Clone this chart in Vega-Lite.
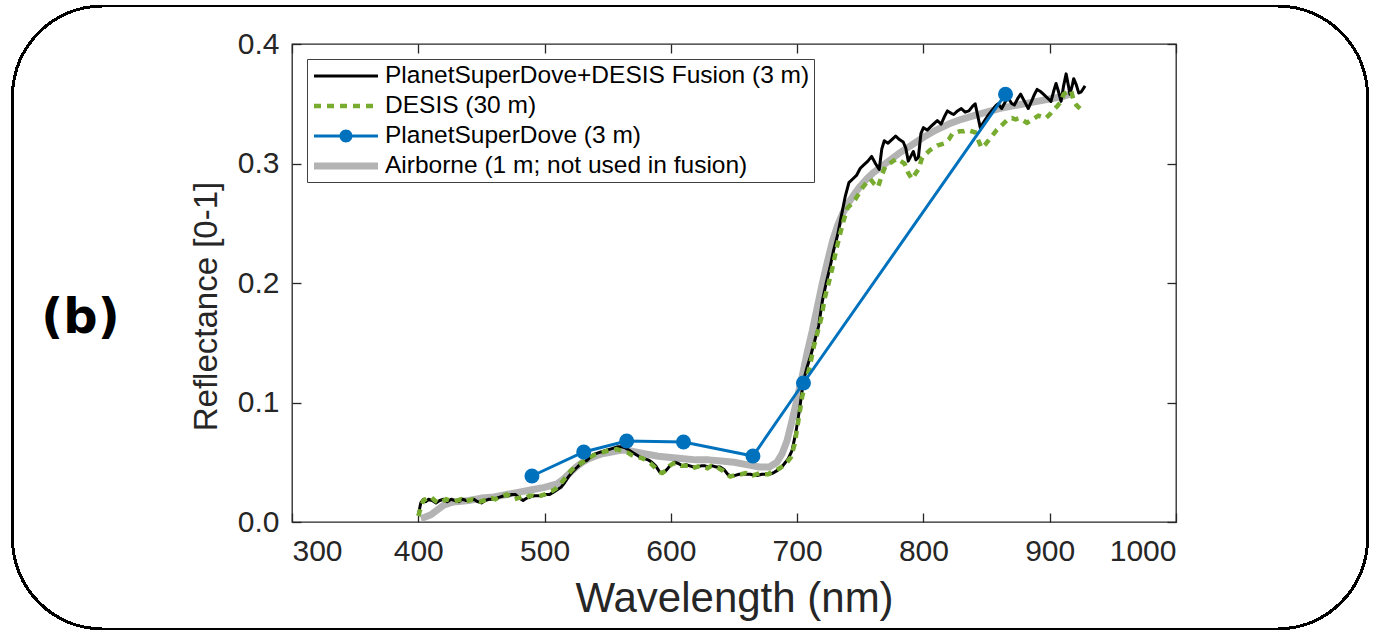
{
  "$schema": "https://vega.github.io/schema/vega-lite/v6.json",
  "width": 884,
  "height": 478,
  "autosize": {"type": "pad"},
  "padding": {"left": 11, "top": 4, "right": 11, "bottom": 4},
  "background": "white",
  "config": {
    "view": {"stroke": "#262626", "strokeWidth": 1.3},
    "axis": {"labelFont": "Liberation Sans", "labelFontSize": 30, "labelColor": "#262626", "tickColor": "#262626", "tickSize": 9, "tickWidth": 1.3, "domain": false, "grid": false, "titleFont": "Liberation Sans", "titleFontSize": 42, "titleFontWeight": "normal", "titleColor": "#262626"}
  },
  "data": {"values": [
    {"s":"PlanetSuperDove+DESIS Fusion (3 m)","w":400,"r":0.006},{"s":"PlanetSuperDove+DESIS Fusion (3 m)","w":402,"r":0.016},{"s":"PlanetSuperDove+DESIS Fusion (3 m)","w":404,"r":0.019},{"s":"PlanetSuperDove+DESIS Fusion (3 m)","w":406,"r":0.017},{"s":"PlanetSuperDove+DESIS Fusion (3 m)","w":408,"r":0.019},{"s":"PlanetSuperDove+DESIS Fusion (3 m)","w":411,"r":0.018},{"s":"PlanetSuperDove+DESIS Fusion (3 m)","w":414,"r":0.016},{"s":"PlanetSuperDove+DESIS Fusion (3 m)","w":417,"r":0.018},{"s":"PlanetSuperDove+DESIS Fusion (3 m)","w":420,"r":0.019},{"s":"PlanetSuperDove+DESIS Fusion (3 m)","w":423,"r":0.017},{"s":"PlanetSuperDove+DESIS Fusion (3 m)","w":426,"r":0.019},{"s":"PlanetSuperDove+DESIS Fusion (3 m)","w":429,"r":0.018},{"s":"PlanetSuperDove+DESIS Fusion (3 m)","w":432,"r":0.017},{"s":"PlanetSuperDove+DESIS Fusion (3 m)","w":435,"r":0.019},{"s":"PlanetSuperDove+DESIS Fusion (3 m)","w":438,"r":0.018},{"s":"PlanetSuperDove+DESIS Fusion (3 m)","w":441,"r":0.018},{"s":"PlanetSuperDove+DESIS Fusion (3 m)","w":444,"r":0.019},{"s":"PlanetSuperDove+DESIS Fusion (3 m)","w":447,"r":0.017},{"s":"PlanetSuperDove+DESIS Fusion (3 m)","w":450,"r":0.016},{"s":"PlanetSuperDove+DESIS Fusion (3 m)","w":453,"r":0.018},{"s":"PlanetSuperDove+DESIS Fusion (3 m)","w":456,"r":0.019},{"s":"PlanetSuperDove+DESIS Fusion (3 m)","w":459,"r":0.019},{"s":"PlanetSuperDove+DESIS Fusion (3 m)","w":462,"r":0.020},{"s":"PlanetSuperDove+DESIS Fusion (3 m)","w":465,"r":0.021},{"s":"PlanetSuperDove+DESIS Fusion (3 m)","w":468,"r":0.022},{"s":"PlanetSuperDove+DESIS Fusion (3 m)","w":471,"r":0.022},{"s":"PlanetSuperDove+DESIS Fusion (3 m)","w":474,"r":0.023},{"s":"PlanetSuperDove+DESIS Fusion (3 m)","w":477,"r":0.023},{"s":"PlanetSuperDove+DESIS Fusion (3 m)","w":480,"r":0.020},{"s":"PlanetSuperDove+DESIS Fusion (3 m)","w":483,"r":0.018},{"s":"PlanetSuperDove+DESIS Fusion (3 m)","w":486,"r":0.020},{"s":"PlanetSuperDove+DESIS Fusion (3 m)","w":489,"r":0.021},{"s":"PlanetSuperDove+DESIS Fusion (3 m)","w":492,"r":0.022},{"s":"PlanetSuperDove+DESIS Fusion (3 m)","w":495,"r":0.022},{"s":"PlanetSuperDove+DESIS Fusion (3 m)","w":498,"r":0.022},{"s":"PlanetSuperDove+DESIS Fusion (3 m)","w":501,"r":0.023},{"s":"PlanetSuperDove+DESIS Fusion (3 m)","w":504,"r":0.023},{"s":"PlanetSuperDove+DESIS Fusion (3 m)","w":507,"r":0.025},{"s":"PlanetSuperDove+DESIS Fusion (3 m)","w":510,"r":0.027},{"s":"PlanetSuperDove+DESIS Fusion (3 m)","w":513,"r":0.029},{"s":"PlanetSuperDove+DESIS Fusion (3 m)","w":516,"r":0.033},{"s":"PlanetSuperDove+DESIS Fusion (3 m)","w":519,"r":0.038},{"s":"PlanetSuperDove+DESIS Fusion (3 m)","w":522,"r":0.042},{"s":"PlanetSuperDove+DESIS Fusion (3 m)","w":525,"r":0.045},{"s":"PlanetSuperDove+DESIS Fusion (3 m)","w":528,"r":0.048},{"s":"PlanetSuperDove+DESIS Fusion (3 m)","w":531,"r":0.050},{"s":"PlanetSuperDove+DESIS Fusion (3 m)","w":534,"r":0.052},{"s":"PlanetSuperDove+DESIS Fusion (3 m)","w":537,"r":0.055},{"s":"PlanetSuperDove+DESIS Fusion (3 m)","w":540,"r":0.057},{"s":"PlanetSuperDove+DESIS Fusion (3 m)","w":543,"r":0.058},{"s":"PlanetSuperDove+DESIS Fusion (3 m)","w":546,"r":0.059},{"s":"PlanetSuperDove+DESIS Fusion (3 m)","w":549,"r":0.060},{"s":"PlanetSuperDove+DESIS Fusion (3 m)","w":552,"r":0.061},{"s":"PlanetSuperDove+DESIS Fusion (3 m)","w":555,"r":0.062},{"s":"PlanetSuperDove+DESIS Fusion (3 m)","w":558,"r":0.063},{"s":"PlanetSuperDove+DESIS Fusion (3 m)","w":561,"r":0.063},{"s":"PlanetSuperDove+DESIS Fusion (3 m)","w":564,"r":0.062},{"s":"PlanetSuperDove+DESIS Fusion (3 m)","w":567,"r":0.060},{"s":"PlanetSuperDove+DESIS Fusion (3 m)","w":570,"r":0.058},{"s":"PlanetSuperDove+DESIS Fusion (3 m)","w":573,"r":0.056},{"s":"PlanetSuperDove+DESIS Fusion (3 m)","w":576,"r":0.054},{"s":"PlanetSuperDove+DESIS Fusion (3 m)","w":579,"r":0.053},{"s":"PlanetSuperDove+DESIS Fusion (3 m)","w":582,"r":0.052},{"s":"PlanetSuperDove+DESIS Fusion (3 m)","w":585,"r":0.050},{"s":"PlanetSuperDove+DESIS Fusion (3 m)","w":588,"r":0.047},{"s":"PlanetSuperDove+DESIS Fusion (3 m)","w":591,"r":0.042},{"s":"PlanetSuperDove+DESIS Fusion (3 m)","w":594,"r":0.041},{"s":"PlanetSuperDove+DESIS Fusion (3 m)","w":597,"r":0.044},{"s":"PlanetSuperDove+DESIS Fusion (3 m)","w":600,"r":0.048},{"s":"PlanetSuperDove+DESIS Fusion (3 m)","w":603,"r":0.050},{"s":"PlanetSuperDove+DESIS Fusion (3 m)","w":606,"r":0.049},{"s":"PlanetSuperDove+DESIS Fusion (3 m)","w":609,"r":0.047},{"s":"PlanetSuperDove+DESIS Fusion (3 m)","w":612,"r":0.048},{"s":"PlanetSuperDove+DESIS Fusion (3 m)","w":615,"r":0.047},{"s":"PlanetSuperDove+DESIS Fusion (3 m)","w":618,"r":0.046},{"s":"PlanetSuperDove+DESIS Fusion (3 m)","w":621,"r":0.046},{"s":"PlanetSuperDove+DESIS Fusion (3 m)","w":624,"r":0.047},{"s":"PlanetSuperDove+DESIS Fusion (3 m)","w":627,"r":0.047},{"s":"PlanetSuperDove+DESIS Fusion (3 m)","w":630,"r":0.046},{"s":"PlanetSuperDove+DESIS Fusion (3 m)","w":633,"r":0.047},{"s":"PlanetSuperDove+DESIS Fusion (3 m)","w":636,"r":0.046},{"s":"PlanetSuperDove+DESIS Fusion (3 m)","w":639,"r":0.046},{"s":"PlanetSuperDove+DESIS Fusion (3 m)","w":642,"r":0.044},{"s":"PlanetSuperDove+DESIS Fusion (3 m)","w":645,"r":0.040},{"s":"PlanetSuperDove+DESIS Fusion (3 m)","w":648,"r":0.038},{"s":"PlanetSuperDove+DESIS Fusion (3 m)","w":651,"r":0.039},{"s":"PlanetSuperDove+DESIS Fusion (3 m)","w":654,"r":0.040},{"s":"PlanetSuperDove+DESIS Fusion (3 m)","w":657,"r":0.040},{"s":"PlanetSuperDove+DESIS Fusion (3 m)","w":660,"r":0.040},{"s":"PlanetSuperDove+DESIS Fusion (3 m)","w":663,"r":0.040},{"s":"PlanetSuperDove+DESIS Fusion (3 m)","w":666,"r":0.039},{"s":"PlanetSuperDove+DESIS Fusion (3 m)","w":669,"r":0.039},{"s":"PlanetSuperDove+DESIS Fusion (3 m)","w":672,"r":0.040},{"s":"PlanetSuperDove+DESIS Fusion (3 m)","w":675,"r":0.040},{"s":"PlanetSuperDove+DESIS Fusion (3 m)","w":678,"r":0.040},{"s":"PlanetSuperDove+DESIS Fusion (3 m)","w":681,"r":0.041},{"s":"PlanetSuperDove+DESIS Fusion (3 m)","w":684,"r":0.043},{"s":"PlanetSuperDove+DESIS Fusion (3 m)","w":687,"r":0.045},{"s":"PlanetSuperDove+DESIS Fusion (3 m)","w":690,"r":0.049},{"s":"PlanetSuperDove+DESIS Fusion (3 m)","w":693,"r":0.053},{"s":"PlanetSuperDove+DESIS Fusion (3 m)","w":696,"r":0.060},{"s":"PlanetSuperDove+DESIS Fusion (3 m)","w":699,"r":0.075},{"s":"PlanetSuperDove+DESIS Fusion (3 m)","w":702,"r":0.095},{"s":"PlanetSuperDove+DESIS Fusion (3 m)","w":705,"r":0.118},{"s":"PlanetSuperDove+DESIS Fusion (3 m)","w":708,"r":0.130},{"s":"PlanetSuperDove+DESIS Fusion (3 m)","w":711,"r":0.140},{"s":"PlanetSuperDove+DESIS Fusion (3 m)","w":714,"r":0.152},{"s":"PlanetSuperDove+DESIS Fusion (3 m)","w":717,"r":0.164},{"s":"PlanetSuperDove+DESIS Fusion (3 m)","w":720,"r":0.185},{"s":"PlanetSuperDove+DESIS Fusion (3 m)","w":723,"r":0.200},{"s":"PlanetSuperDove+DESIS Fusion (3 m)","w":726,"r":0.213},{"s":"PlanetSuperDove+DESIS Fusion (3 m)","w":729,"r":0.228},{"s":"PlanetSuperDove+DESIS Fusion (3 m)","w":732,"r":0.240},{"s":"PlanetSuperDove+DESIS Fusion (3 m)","w":735,"r":0.256},{"s":"PlanetSuperDove+DESIS Fusion (3 m)","w":738,"r":0.272},{"s":"PlanetSuperDove+DESIS Fusion (3 m)","w":741,"r":0.284},{"s":"PlanetSuperDove+DESIS Fusion (3 m)","w":744,"r":0.287},{"s":"PlanetSuperDove+DESIS Fusion (3 m)","w":747,"r":0.290},{"s":"PlanetSuperDove+DESIS Fusion (3 m)","w":750,"r":0.296},{"s":"PlanetSuperDove+DESIS Fusion (3 m)","w":753,"r":0.299},{"s":"PlanetSuperDove+DESIS Fusion (3 m)","w":756,"r":0.302},{"s":"PlanetSuperDove+DESIS Fusion (3 m)","w":759,"r":0.306},{"s":"PlanetSuperDove+DESIS Fusion (3 m)","w":762,"r":0.300},{"s":"PlanetSuperDove+DESIS Fusion (3 m)","w":765,"r":0.295},{"s":"PlanetSuperDove+DESIS Fusion (3 m)","w":767,"r":0.312},{"s":"PlanetSuperDove+DESIS Fusion (3 m)","w":769,"r":0.319},{"s":"PlanetSuperDove+DESIS Fusion (3 m)","w":772,"r":0.317},{"s":"PlanetSuperDove+DESIS Fusion (3 m)","w":775,"r":0.320},{"s":"PlanetSuperDove+DESIS Fusion (3 m)","w":778,"r":0.323},{"s":"PlanetSuperDove+DESIS Fusion (3 m)","w":781,"r":0.320},{"s":"PlanetSuperDove+DESIS Fusion (3 m)","w":784,"r":0.318},{"s":"PlanetSuperDove+DESIS Fusion (3 m)","w":786,"r":0.313},{"s":"PlanetSuperDove+DESIS Fusion (3 m)","w":788,"r":0.302},{"s":"PlanetSuperDove+DESIS Fusion (3 m)","w":790,"r":0.306},{"s":"PlanetSuperDove+DESIS Fusion (3 m)","w":792,"r":0.310},{"s":"PlanetSuperDove+DESIS Fusion (3 m)","w":794,"r":0.303},{"s":"PlanetSuperDove+DESIS Fusion (3 m)","w":796,"r":0.305},{"s":"PlanetSuperDove+DESIS Fusion (3 m)","w":798,"r":0.325},{"s":"PlanetSuperDove+DESIS Fusion (3 m)","w":800,"r":0.330},{"s":"PlanetSuperDove+DESIS Fusion (3 m)","w":803,"r":0.328},{"s":"PlanetSuperDove+DESIS Fusion (3 m)","w":806,"r":0.331},{"s":"PlanetSuperDove+DESIS Fusion (3 m)","w":809,"r":0.334},{"s":"PlanetSuperDove+DESIS Fusion (3 m)","w":811,"r":0.336},{"s":"PlanetSuperDove+DESIS Fusion (3 m)","w":814,"r":0.333},{"s":"PlanetSuperDove+DESIS Fusion (3 m)","w":817,"r":0.340},{"s":"PlanetSuperDove+DESIS Fusion (3 m)","w":819,"r":0.344},{"s":"PlanetSuperDove+DESIS Fusion (3 m)","w":822,"r":0.342},{"s":"PlanetSuperDove+DESIS Fusion (3 m)","w":824,"r":0.341},{"s":"PlanetSuperDove+DESIS Fusion (3 m)","w":827,"r":0.344},{"s":"PlanetSuperDove+DESIS Fusion (3 m)","w":830,"r":0.346},{"s":"PlanetSuperDove+DESIS Fusion (3 m)","w":833,"r":0.343},{"s":"PlanetSuperDove+DESIS Fusion (3 m)","w":836,"r":0.344},{"s":"PlanetSuperDove+DESIS Fusion (3 m)","w":839,"r":0.348},{"s":"PlanetSuperDove+DESIS Fusion (3 m)","w":841,"r":0.350},{"s":"PlanetSuperDove+DESIS Fusion (3 m)","w":843,"r":0.340},{"s":"PlanetSuperDove+DESIS Fusion (3 m)","w":845,"r":0.330},{"s":"PlanetSuperDove+DESIS Fusion (3 m)","w":848,"r":0.335},{"s":"PlanetSuperDove+DESIS Fusion (3 m)","w":851,"r":0.340},{"s":"PlanetSuperDove+DESIS Fusion (3 m)","w":854,"r":0.344},{"s":"PlanetSuperDove+DESIS Fusion (3 m)","w":857,"r":0.348},{"s":"PlanetSuperDove+DESIS Fusion (3 m)","w":859,"r":0.350},{"s":"PlanetSuperDove+DESIS Fusion (3 m)","w":862,"r":0.346},{"s":"PlanetSuperDove+DESIS Fusion (3 m)","w":865,"r":0.352},{"s":"PlanetSuperDove+DESIS Fusion (3 m)","w":867,"r":0.355},{"s":"PlanetSuperDove+DESIS Fusion (3 m)","w":870,"r":0.350},{"s":"PlanetSuperDove+DESIS Fusion (3 m)","w":872,"r":0.349},{"s":"PlanetSuperDove+DESIS Fusion (3 m)","w":875,"r":0.355},{"s":"PlanetSuperDove+DESIS Fusion (3 m)","w":877,"r":0.358},{"s":"PlanetSuperDove+DESIS Fusion (3 m)","w":880,"r":0.352},{"s":"PlanetSuperDove+DESIS Fusion (3 m)","w":883,"r":0.346},{"s":"PlanetSuperDove+DESIS Fusion (3 m)","w":886,"r":0.353},{"s":"PlanetSuperDove+DESIS Fusion (3 m)","w":888,"r":0.358},{"s":"PlanetSuperDove+DESIS Fusion (3 m)","w":890,"r":0.362},{"s":"PlanetSuperDove+DESIS Fusion (3 m)","w":893,"r":0.360},{"s":"PlanetSuperDove+DESIS Fusion (3 m)","w":895,"r":0.358},{"s":"PlanetSuperDove+DESIS Fusion (3 m)","w":898,"r":0.355},{"s":"PlanetSuperDove+DESIS Fusion (3 m)","w":901,"r":0.352},{"s":"PlanetSuperDove+DESIS Fusion (3 m)","w":903,"r":0.360},{"s":"PlanetSuperDove+DESIS Fusion (3 m)","w":905,"r":0.367},{"s":"PlanetSuperDove+DESIS Fusion (3 m)","w":907,"r":0.360},{"s":"PlanetSuperDove+DESIS Fusion (3 m)","w":909,"r":0.352},{"s":"PlanetSuperDove+DESIS Fusion (3 m)","w":911,"r":0.365},{"s":"PlanetSuperDove+DESIS Fusion (3 m)","w":913,"r":0.375},{"s":"PlanetSuperDove+DESIS Fusion (3 m)","w":915,"r":0.364},{"s":"PlanetSuperDove+DESIS Fusion (3 m)","w":916,"r":0.358},{"s":"PlanetSuperDove+DESIS Fusion (3 m)","w":918,"r":0.366},{"s":"PlanetSuperDove+DESIS Fusion (3 m)","w":919,"r":0.371},{"s":"PlanetSuperDove+DESIS Fusion (3 m)","w":921,"r":0.366},{"s":"PlanetSuperDove+DESIS Fusion (3 m)","w":923,"r":0.359},{"s":"PlanetSuperDove+DESIS Fusion (3 m)","w":925,"r":0.360},{"s":"PlanetSuperDove+DESIS Fusion (3 m)","w":928,"r":0.365},
    {"s":"DESIS (30 m)","w":400,"r":0.005},{"s":"DESIS (30 m)","w":402,"r":0.012},{"s":"DESIS (30 m)","w":404,"r":0.018},{"s":"DESIS (30 m)","w":407,"r":0.020},{"s":"DESIS (30 m)","w":410,"r":0.021},{"s":"DESIS (30 m)","w":413,"r":0.018},{"s":"DESIS (30 m)","w":416,"r":0.016},{"s":"DESIS (30 m)","w":419,"r":0.017},{"s":"DESIS (30 m)","w":422,"r":0.019},{"s":"DESIS (30 m)","w":425,"r":0.018},{"s":"DESIS (30 m)","w":428,"r":0.017},{"s":"DESIS (30 m)","w":431,"r":0.018},{"s":"DESIS (30 m)","w":434,"r":0.019},{"s":"DESIS (30 m)","w":437,"r":0.017},{"s":"DESIS (30 m)","w":440,"r":0.018},{"s":"DESIS (30 m)","w":443,"r":0.019},{"s":"DESIS (30 m)","w":446,"r":0.018},{"s":"DESIS (30 m)","w":449,"r":0.017},{"s":"DESIS (30 m)","w":452,"r":0.018},{"s":"DESIS (30 m)","w":455,"r":0.019},{"s":"DESIS (30 m)","w":458,"r":0.020},{"s":"DESIS (30 m)","w":461,"r":0.019},{"s":"DESIS (30 m)","w":464,"r":0.021},{"s":"DESIS (30 m)","w":467,"r":0.022},{"s":"DESIS (30 m)","w":470,"r":0.023},{"s":"DESIS (30 m)","w":473,"r":0.021},{"s":"DESIS (30 m)","w":476,"r":0.019},{"s":"DESIS (30 m)","w":479,"r":0.020},{"s":"DESIS (30 m)","w":482,"r":0.021},{"s":"DESIS (30 m)","w":485,"r":0.020},{"s":"DESIS (30 m)","w":488,"r":0.022},{"s":"DESIS (30 m)","w":491,"r":0.022},{"s":"DESIS (30 m)","w":494,"r":0.021},{"s":"DESIS (30 m)","w":497,"r":0.022},{"s":"DESIS (30 m)","w":500,"r":0.023},{"s":"DESIS (30 m)","w":503,"r":0.025},{"s":"DESIS (30 m)","w":506,"r":0.026},{"s":"DESIS (30 m)","w":509,"r":0.028},{"s":"DESIS (30 m)","w":512,"r":0.031},{"s":"DESIS (30 m)","w":515,"r":0.035},{"s":"DESIS (30 m)","w":518,"r":0.039},{"s":"DESIS (30 m)","w":521,"r":0.043},{"s":"DESIS (30 m)","w":524,"r":0.046},{"s":"DESIS (30 m)","w":527,"r":0.048},{"s":"DESIS (30 m)","w":530,"r":0.050},{"s":"DESIS (30 m)","w":533,"r":0.052},{"s":"DESIS (30 m)","w":536,"r":0.054},{"s":"DESIS (30 m)","w":539,"r":0.056},{"s":"DESIS (30 m)","w":542,"r":0.057},{"s":"DESIS (30 m)","w":545,"r":0.058},{"s":"DESIS (30 m)","w":548,"r":0.059},{"s":"DESIS (30 m)","w":551,"r":0.060},{"s":"DESIS (30 m)","w":554,"r":0.060},{"s":"DESIS (30 m)","w":557,"r":0.061},{"s":"DESIS (30 m)","w":560,"r":0.060},{"s":"DESIS (30 m)","w":563,"r":0.059},{"s":"DESIS (30 m)","w":566,"r":0.058},{"s":"DESIS (30 m)","w":569,"r":0.056},{"s":"DESIS (30 m)","w":572,"r":0.055},{"s":"DESIS (30 m)","w":575,"r":0.054},{"s":"DESIS (30 m)","w":578,"r":0.053},{"s":"DESIS (30 m)","w":581,"r":0.051},{"s":"DESIS (30 m)","w":584,"r":0.049},{"s":"DESIS (30 m)","w":587,"r":0.046},{"s":"DESIS (30 m)","w":590,"r":0.042},{"s":"DESIS (30 m)","w":593,"r":0.041},{"s":"DESIS (30 m)","w":596,"r":0.043},{"s":"DESIS (30 m)","w":599,"r":0.047},{"s":"DESIS (30 m)","w":602,"r":0.049},{"s":"DESIS (30 m)","w":605,"r":0.049},{"s":"DESIS (30 m)","w":608,"r":0.047},{"s":"DESIS (30 m)","w":611,"r":0.047},{"s":"DESIS (30 m)","w":614,"r":0.047},{"s":"DESIS (30 m)","w":617,"r":0.045},{"s":"DESIS (30 m)","w":620,"r":0.046},{"s":"DESIS (30 m)","w":623,"r":0.047},{"s":"DESIS (30 m)","w":626,"r":0.046},{"s":"DESIS (30 m)","w":629,"r":0.045},{"s":"DESIS (30 m)","w":632,"r":0.047},{"s":"DESIS (30 m)","w":635,"r":0.046},{"s":"DESIS (30 m)","w":638,"r":0.045},{"s":"DESIS (30 m)","w":641,"r":0.043},{"s":"DESIS (30 m)","w":644,"r":0.040},{"s":"DESIS (30 m)","w":647,"r":0.038},{"s":"DESIS (30 m)","w":650,"r":0.039},{"s":"DESIS (30 m)","w":653,"r":0.040},{"s":"DESIS (30 m)","w":656,"r":0.040},{"s":"DESIS (30 m)","w":659,"r":0.041},{"s":"DESIS (30 m)","w":662,"r":0.040},{"s":"DESIS (30 m)","w":665,"r":0.039},{"s":"DESIS (30 m)","w":668,"r":0.040},{"s":"DESIS (30 m)","w":671,"r":0.041},{"s":"DESIS (30 m)","w":674,"r":0.040},{"s":"DESIS (30 m)","w":677,"r":0.040},{"s":"DESIS (30 m)","w":680,"r":0.042},{"s":"DESIS (30 m)","w":683,"r":0.043},{"s":"DESIS (30 m)","w":686,"r":0.045},{"s":"DESIS (30 m)","w":689,"r":0.047},{"s":"DESIS (30 m)","w":692,"r":0.050},{"s":"DESIS (30 m)","w":695,"r":0.054},{"s":"DESIS (30 m)","w":698,"r":0.065},{"s":"DESIS (30 m)","w":701,"r":0.085},{"s":"DESIS (30 m)","w":704,"r":0.105},{"s":"DESIS (30 m)","w":707,"r":0.118},{"s":"DESIS (30 m)","w":710,"r":0.130},{"s":"DESIS (30 m)","w":713,"r":0.146},{"s":"DESIS (30 m)","w":716,"r":0.158},{"s":"DESIS (30 m)","w":719,"r":0.170},{"s":"DESIS (30 m)","w":722,"r":0.188},{"s":"DESIS (30 m)","w":725,"r":0.200},{"s":"DESIS (30 m)","w":728,"r":0.213},{"s":"DESIS (30 m)","w":731,"r":0.228},{"s":"DESIS (30 m)","w":734,"r":0.241},{"s":"DESIS (30 m)","w":737,"r":0.253},{"s":"DESIS (30 m)","w":740,"r":0.263},{"s":"DESIS (30 m)","w":743,"r":0.266},{"s":"DESIS (30 m)","w":746,"r":0.270},{"s":"DESIS (30 m)","w":749,"r":0.275},{"s":"DESIS (30 m)","w":752,"r":0.280},{"s":"DESIS (30 m)","w":755,"r":0.284},{"s":"DESIS (30 m)","w":758,"r":0.287},{"s":"DESIS (30 m)","w":761,"r":0.283},{"s":"DESIS (30 m)","w":764,"r":0.280},{"s":"DESIS (30 m)","w":767,"r":0.290},{"s":"DESIS (30 m)","w":770,"r":0.298},{"s":"DESIS (30 m)","w":773,"r":0.300},{"s":"DESIS (30 m)","w":776,"r":0.302},{"s":"DESIS (30 m)","w":779,"r":0.304},{"s":"DESIS (30 m)","w":782,"r":0.302},{"s":"DESIS (30 m)","w":785,"r":0.300},{"s":"DESIS (30 m)","w":788,"r":0.292},{"s":"DESIS (30 m)","w":791,"r":0.287},{"s":"DESIS (30 m)","w":794,"r":0.292},{"s":"DESIS (30 m)","w":796,"r":0.295},{"s":"DESIS (30 m)","w":799,"r":0.305},{"s":"DESIS (30 m)","w":802,"r":0.308},{"s":"DESIS (30 m)","w":805,"r":0.311},{"s":"DESIS (30 m)","w":808,"r":0.313},{"s":"DESIS (30 m)","w":811,"r":0.315},{"s":"DESIS (30 m)","w":814,"r":0.316},{"s":"DESIS (30 m)","w":817,"r":0.317},{"s":"DESIS (30 m)","w":820,"r":0.320},{"s":"DESIS (30 m)","w":823,"r":0.325},{"s":"DESIS (30 m)","w":826,"r":0.326},{"s":"DESIS (30 m)","w":829,"r":0.327},{"s":"DESIS (30 m)","w":832,"r":0.327},{"s":"DESIS (30 m)","w":835,"r":0.328},{"s":"DESIS (30 m)","w":838,"r":0.327},{"s":"DESIS (30 m)","w":841,"r":0.326},{"s":"DESIS (30 m)","w":844,"r":0.318},{"s":"DESIS (30 m)","w":846,"r":0.313},{"s":"DESIS (30 m)","w":849,"r":0.316},{"s":"DESIS (30 m)","w":852,"r":0.320},{"s":"DESIS (30 m)","w":855,"r":0.324},{"s":"DESIS (30 m)","w":858,"r":0.328},{"s":"DESIS (30 m)","w":861,"r":0.331},{"s":"DESIS (30 m)","w":864,"r":0.334},{"s":"DESIS (30 m)","w":867,"r":0.337},{"s":"DESIS (30 m)","w":870,"r":0.338},{"s":"DESIS (30 m)","w":873,"r":0.337},{"s":"DESIS (30 m)","w":876,"r":0.338},{"s":"DESIS (30 m)","w":879,"r":0.336},{"s":"DESIS (30 m)","w":882,"r":0.334},{"s":"DESIS (30 m)","w":885,"r":0.336},{"s":"DESIS (30 m)","w":888,"r":0.338},{"s":"DESIS (30 m)","w":891,"r":0.340},{"s":"DESIS (30 m)","w":894,"r":0.339},{"s":"DESIS (30 m)","w":897,"r":0.338},{"s":"DESIS (30 m)","w":900,"r":0.341},{"s":"DESIS (30 m)","w":903,"r":0.345},{"s":"DESIS (30 m)","w":906,"r":0.348},{"s":"DESIS (30 m)","w":909,"r":0.352},{"s":"DESIS (30 m)","w":911,"r":0.358},{"s":"DESIS (30 m)","w":914,"r":0.360},{"s":"DESIS (30 m)","w":917,"r":0.361},{"s":"DESIS (30 m)","w":919,"r":0.352},{"s":"DESIS (30 m)","w":921,"r":0.349},{"s":"DESIS (30 m)","w":924,"r":0.346},
    {"s":"PlanetSuperDove (3 m)","w":490,"r":0.0385},{"s":"PlanetSuperDove (3 m)","w":531,"r":0.0586},{"s":"PlanetSuperDove (3 m)","w":565,"r":0.0678},{"s":"PlanetSuperDove (3 m)","w":610,"r":0.067},{"s":"PlanetSuperDove (3 m)","w":665,"r":0.0552},{"s":"PlanetSuperDove (3 m)","w":705,"r":0.1163},{"s":"PlanetSuperDove (3 m)","w":865,"r":0.358},
    {"s":"Airborne (1 m; not used in fusion)","w":402,"r":0.003},{"s":"Airborne (1 m; not used in fusion)","w":405,"r":0.004},{"s":"Airborne (1 m; not used in fusion)","w":410,"r":0.006},{"s":"Airborne (1 m; not used in fusion)","w":415,"r":0.010},{"s":"Airborne (1 m; not used in fusion)","w":420,"r":0.014},{"s":"Airborne (1 m; not used in fusion)","w":425,"r":0.016},{"s":"Airborne (1 m; not used in fusion)","w":430,"r":0.017},{"s":"Airborne (1 m; not used in fusion)","w":440,"r":0.018},{"s":"Airborne (1 m; not used in fusion)","w":450,"r":0.020},{"s":"Airborne (1 m; not used in fusion)","w":460,"r":0.021},{"s":"Airborne (1 m; not used in fusion)","w":470,"r":0.023},{"s":"Airborne (1 m; not used in fusion)","w":480,"r":0.025},{"s":"Airborne (1 m; not used in fusion)","w":490,"r":0.027},{"s":"Airborne (1 m; not used in fusion)","w":500,"r":0.029},{"s":"Airborne (1 m; not used in fusion)","w":510,"r":0.032},{"s":"Airborne (1 m; not used in fusion)","w":515,"r":0.036},{"s":"Airborne (1 m; not used in fusion)","w":520,"r":0.041},{"s":"Airborne (1 m; not used in fusion)","w":525,"r":0.046},{"s":"Airborne (1 m; not used in fusion)","w":530,"r":0.050},{"s":"Airborne (1 m; not used in fusion)","w":535,"r":0.053},{"s":"Airborne (1 m; not used in fusion)","w":540,"r":0.055},{"s":"Airborne (1 m; not used in fusion)","w":545,"r":0.057},{"s":"Airborne (1 m; not used in fusion)","w":550,"r":0.058},{"s":"Airborne (1 m; not used in fusion)","w":555,"r":0.059},{"s":"Airborne (1 m; not used in fusion)","w":560,"r":0.060},{"s":"Airborne (1 m; not used in fusion)","w":565,"r":0.060},{"s":"Airborne (1 m; not used in fusion)","w":570,"r":0.059},{"s":"Airborne (1 m; not used in fusion)","w":575,"r":0.058},{"s":"Airborne (1 m; not used in fusion)","w":580,"r":0.057},{"s":"Airborne (1 m; not used in fusion)","w":590,"r":0.055},{"s":"Airborne (1 m; not used in fusion)","w":600,"r":0.054},{"s":"Airborne (1 m; not used in fusion)","w":610,"r":0.053},{"s":"Airborne (1 m; not used in fusion)","w":620,"r":0.052},{"s":"Airborne (1 m; not used in fusion)","w":630,"r":0.052},{"s":"Airborne (1 m; not used in fusion)","w":640,"r":0.051},{"s":"Airborne (1 m; not used in fusion)","w":650,"r":0.050},{"s":"Airborne (1 m; not used in fusion)","w":660,"r":0.048},{"s":"Airborne (1 m; not used in fusion)","w":670,"r":0.046},{"s":"Airborne (1 m; not used in fusion)","w":678,"r":0.046},{"s":"Airborne (1 m; not used in fusion)","w":684,"r":0.050},{"s":"Airborne (1 m; not used in fusion)","w":688,"r":0.057},{"s":"Airborne (1 m; not used in fusion)","w":692,"r":0.068},{"s":"Airborne (1 m; not used in fusion)","w":696,"r":0.085},{"s":"Airborne (1 m; not used in fusion)","w":700,"r":0.103},{"s":"Airborne (1 m; not used in fusion)","w":704,"r":0.122},{"s":"Airborne (1 m; not used in fusion)","w":708,"r":0.142},{"s":"Airborne (1 m; not used in fusion)","w":712,"r":0.160},{"s":"Airborne (1 m; not used in fusion)","w":716,"r":0.180},{"s":"Airborne (1 m; not used in fusion)","w":720,"r":0.200},{"s":"Airborne (1 m; not used in fusion)","w":724,"r":0.218},{"s":"Airborne (1 m; not used in fusion)","w":728,"r":0.235},{"s":"Airborne (1 m; not used in fusion)","w":732,"r":0.248},{"s":"Airborne (1 m; not used in fusion)","w":736,"r":0.258},{"s":"Airborne (1 m; not used in fusion)","w":740,"r":0.266},{"s":"Airborne (1 m; not used in fusion)","w":745,"r":0.274},{"s":"Airborne (1 m; not used in fusion)","w":750,"r":0.281},{"s":"Airborne (1 m; not used in fusion)","w":755,"r":0.287},{"s":"Airborne (1 m; not used in fusion)","w":760,"r":0.292},{"s":"Airborne (1 m; not used in fusion)","w":770,"r":0.300},{"s":"Airborne (1 m; not used in fusion)","w":780,"r":0.308},{"s":"Airborne (1 m; not used in fusion)","w":790,"r":0.315},{"s":"Airborne (1 m; not used in fusion)","w":800,"r":0.322},{"s":"Airborne (1 m; not used in fusion)","w":810,"r":0.328},{"s":"Airborne (1 m; not used in fusion)","w":820,"r":0.333},{"s":"Airborne (1 m; not used in fusion)","w":830,"r":0.337},{"s":"Airborne (1 m; not used in fusion)","w":840,"r":0.340},{"s":"Airborne (1 m; not used in fusion)","w":850,"r":0.343},{"s":"Airborne (1 m; not used in fusion)","w":860,"r":0.346},{"s":"Airborne (1 m; not used in fusion)","w":870,"r":0.348},{"s":"Airborne (1 m; not used in fusion)","w":880,"r":0.350},{"s":"Airborne (1 m; not used in fusion)","w":890,"r":0.352},{"s":"Airborne (1 m; not used in fusion)","w":900,"r":0.354},{"s":"Airborne (1 m; not used in fusion)","w":910,"r":0.356},{"s":"Airborne (1 m; not used in fusion)","w":916,"r":0.358}
  ]},
  "resolve": {"axis": {"x": "independent", "y": "independent"}},
  "layer": [
    {
      "mark": {"type": "rect", "fill": null, "stroke": "black", "strokeWidth": 2, "cornerRadius": 90, "clip": false},
      "encoding": {
        "x": {"datum": 78.7, "type": "quantitative", "scale": {"domain": [300, 1000], "nice": false, "zero": false}, "axis": null},
        "x2": {"datum": 1151.6},
        "y": {"datum": 0.4318, "type": "quantitative", "scale": {"domain": [0, 0.4], "nice": false, "zero": false}, "axis": null},
        "y2": {"datum": -0.0895}
      }
    },
    {
      "data": {"values": [{"label": "(b)"}]},
      "mark": {"type": "text", "font": "DejaVu Sans", "fontSize": 48, "fontWeight": "bold", "color": "black", "align": "center", "baseline": "middle", "clip": false},
      "encoding": {
        "x": {"datum": 132.5, "type": "quantitative", "axis": null},
        "y": {"datum": 0.17, "type": "quantitative", "axis": null},
        "text": {"field": "label"}
      }
    },
    {
      "transform": [{"filter": "datum.s == 'Airborne (1 m; not used in fusion)'"}],
      "mark": {"type": "line", "strokeWidth": 7, "strokeCap": "butt", "strokeJoin": "round"},
      "encoding": {
        "x": {"field": "w", "type": "quantitative", "scale": {"domain": [300, 1000], "nice": false, "zero": false},
          "axis": {"orient": "bottom", "title": "Wavelength (nm)", "values": [300, 400, 500, 600, 700, 800, 900, 1000], "format": "d", "ticks": false, "labelPadding": 14, "titlePadding": 12}},
        "y": {"field": "r", "type": "quantitative", "scale": {"domain": [0, 0.4], "nice": false, "zero": false},
          "axis": {"orient": "left", "title": "Reflectance [0-1]", "titleFontSize": 33, "titleY": 262, "values": [0, 0.1, 0.2, 0.3, 0.4], "format": ".1f", "ticks": false, "labelPadding": 13, "titlePadding": 14}},
        "color": {"field": "s", "type": "nominal",
          "scale": {"domain": ["PlanetSuperDove+DESIS Fusion (3 m)", "DESIS (30 m)", "PlanetSuperDove (3 m)", "Airborne (1 m; not used in fusion)"], "range": ["#000000", "#77AC30", "#0072BD", "#B3B3B3"]},
          "legend": {"title": null, "orient": "top-left", "offset": 15, "symbolSize": 676, "symbolStrokeWidth": 0, "rowPadding": 5, "padding": 4, "symbolOffset": 22, "labelOffset": 26, "labelFont": "Liberation Sans", "labelFontSize": 24.5, "labelColor": "black", "labelLimit": 0, "strokeColor": "#404040", "fillColor": "white", "symbolOpacity": 1,
            "encode": {"symbols": {"update": {
              "shape": {"signal": "datum.value == 'DESIS (30 m)' ? 'M-2.4615,-0.173H-1.923V0.173H-2.4615ZM-1.4615,-0.173H-0.923V0.173H-1.4615ZM-0.4615,-0.173H0.077V0.173H-0.4615ZM0.5385,-0.173H1.077V0.173H0.5385ZM1.5385,-0.173H2.077V0.173H1.5385Z' : datum.value == 'PlanetSuperDove (3 m)' ? 'M-2.4615,-0.1154H2.4615V0.1154H-2.4615ZM0.5,0A0.5,0.5,0,1,1,-0.5,0A0.5,0.5,0,1,1,0.5,0Z' : datum.value == 'Airborne (1 m; not used in fusion)' ? 'M-2.4615,-0.269H2.4615V0.269H-2.4615Z' : 'M-2.4615,-0.1154H2.4615V0.1154H-2.4615Z'"},
              "fill": {"scale": "color", "field": "value"},
              "strokeWidth": {"value": 0},
              "opacity": {"value": 1}
            }}}}
        }
      }
    },
    {
      "transform": [{"filter": "datum.s == 'PlanetSuperDove+DESIS Fusion (3 m)'"}],
      "mark": {"type": "line", "strokeWidth": 3, "strokeJoin": "round"},
      "encoding": {
        "x": {"field": "w", "type": "quantitative", "axis": {"orient": "top", "offset": -478, "title": null, "labels": false, "values": [300, 400, 500, 600, 700, 800, 900, 1000]}},
        "y": {"field": "r", "type": "quantitative", "axis": null},
        "color": {"field": "s", "type": "nominal"}
      }
    },
    {
      "transform": [{"filter": "datum.s == 'DESIS (30 m)'"}],
      "mark": {"type": "line", "strokeWidth": 4.5, "strokeDash": [7, 6], "strokeCap": "butt"},
      "encoding": {
        "x": {"field": "w", "type": "quantitative", "axis": {"orient": "bottom", "offset": -478, "title": null, "labels": false, "values": [300, 400, 500, 600, 700, 800, 900, 1000]}},
        "y": {"field": "r", "type": "quantitative", "axis": null},
        "color": {"field": "s", "type": "nominal"}
      }
    },
    {
      "transform": [{"filter": "datum.s == 'PlanetSuperDove (3 m)'"}],
      "mark": {"type": "line", "strokeWidth": 3},
      "encoding": {
        "x": {"field": "w", "type": "quantitative", "axis": null},
        "y": {"field": "r", "type": "quantitative", "axis": {"orient": "right", "offset": -884, "title": null, "labels": false, "values": [0, 0.1, 0.2, 0.3, 0.4]}},
        "color": {"field": "s", "type": "nominal"}
      }
    },
    {
      "transform": [{"filter": "datum.s == 'PlanetSuperDove (3 m)'"}],
      "mark": {"type": "circle", "size": 225, "opacity": 1, "color": "#0072BD"},
      "encoding": {
        "x": {"field": "w", "type": "quantitative", "axis": null},
        "y": {"field": "r", "type": "quantitative", "axis": {"orient": "left", "offset": -884, "title": null, "labels": false, "values": [0, 0.1, 0.2, 0.3, 0.4]}}
      }
    }
  ]
}
